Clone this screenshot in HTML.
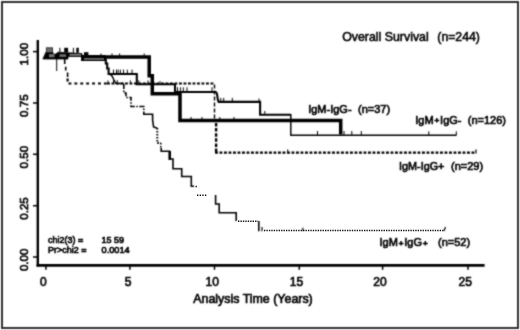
<!DOCTYPE html>
<html>
<head>
<meta charset="utf-8">
<title>Overall Survival</title>
<style>
html,body{margin:0;padding:0;background:#fff;}
body{width:520px;height:330px;overflow:hidden;}
svg{display:block;}
text{font-family:"Liberation Sans",Arial,sans-serif;fill:#000;stroke:#000;stroke-width:0.65px;}
.t12{font-size:12px;}
.t11{font-size:11px;stroke-width:0.45px;}
.t9{font-size:9px;stroke-width:0.5px;}
</style>
</head>
<body>
<svg width="520" height="330" viewBox="0 0 520 330">
<defs><filter id="soft" x="0" y="0" width="520" height="330" filterUnits="userSpaceOnUse" color-interpolation-filters="sRGB"><feConvolveMatrix order="3" kernelMatrix="1 2 1 2 10 2 1 2 1" divisor="22" edgeMode="duplicate" preserveAlpha="true"/></filter></defs>
<g filter="url(#soft)">
<rect x="0" y="0" width="520" height="330" fill="#fff"/>
<!-- outer frame -->
<rect x="2" y="2" width="516" height="326" fill="none" stroke="#303030" stroke-width="2"/>

<!-- axes -->
<g stroke="#000" fill="none">
<line x1="37.8" y1="40" x2="37.8" y2="266.6" stroke-width="2.4"/>
<line x1="36.6" y1="265.4" x2="484.6" y2="265.4" stroke-width="2.6"/>
<g stroke-width="1.5">
<line x1="33" y1="51.6" x2="37.5" y2="51.6"/>
<line x1="33" y1="103" x2="37.5" y2="103"/>
<line x1="33" y1="154.3" x2="37.5" y2="154.3"/>
<line x1="33" y1="205.7" x2="37.5" y2="205.7"/>
<line x1="33" y1="257" x2="37.5" y2="257"/>
<line x1="45.9" y1="265" x2="45.9" y2="269.8"/>
<line x1="129.9" y1="265" x2="129.9" y2="269.8"/>
<line x1="214.5" y1="265" x2="214.5" y2="269.8"/>
<line x1="299.3" y1="265" x2="299.3" y2="269.8"/>
<line x1="382.6" y1="265" x2="382.6" y2="269.8"/>
<line x1="468" y1="265" x2="468" y2="269.8"/>
</g>
</g>

<!-- y labels -->
<g class="t12" text-anchor="middle" style="font-size:11.6px;stroke-width:0.8px">
<text transform="translate(28.1,54.2) rotate(-90)">1.00</text>
<text transform="translate(28.1,105.7) rotate(-90)">0.75</text>
<text transform="translate(28.1,157.2) rotate(-90)">0.50</text>
<text transform="translate(28.1,208.5) rotate(-90)">0.25</text>
<text transform="translate(28.1,259.8) rotate(-90)">0.00</text>
</g>
<!-- x labels -->
<g class="t12" text-anchor="middle">
<text x="43.4" y="285.8">0</text>
<text x="128" y="285.8">5</text>
<text x="212.2" y="285.8">10</text>
<text x="296.5" y="285.8">15</text>
<text x="380" y="285.8">20</text>
<text x="465.3" y="285.8">25</text>
<text x="253" y="303.4" style="font-size:12.5px" textLength="119.5" lengthAdjust="spacingAndGlyphs">Analysis Time (Years)</text>
</g>

<!-- title -->
<text class="t12" x="342.2" y="41" style="font-size:12.3px;stroke-width:0.55px" textLength="86.5" lengthAdjust="spacingAndGlyphs">Overall Survival</text>
<text class="t12" x="437.3" y="41" style="font-size:12.3px;stroke-width:0.55px" textLength="42.6" lengthAdjust="spacingAndGlyphs">(n=244)</text>

<!-- group labels -->
<g class="t11">
<text x="308.2" y="112.7">IgM-IgG-</text>
<text x="358" y="112.7">(n=37)</text>
<text x="415.3" y="123.8">IgM<tspan dx="0.9" dy="-0.6" style="font-size:8px;stroke-width:0.9px">+</tspan><tspan dx="0.9" dy="0.6">IgG-</tspan></text>
<text x="467.8" y="123.8">(n=126)</text>
<text x="399" y="170.3" textLength="45.4" lengthAdjust="spacingAndGlyphs">IgM-IgG+</text>
<text x="451" y="170.3">(n=29)</text>
<text x="379.5" y="246.2">IgM<tspan dx="0.9" dy="-0.6" style="font-size:8px;stroke-width:0.9px">+</tspan><tspan dx="0.9" dy="0.6">IgG</tspan><tspan dx="0.9" dy="-0.6" style="font-size:8px;stroke-width:0.9px">+</tspan></text>
<text x="438" y="246.2">(n=52)</text>
</g>

<!-- stats -->
<g class="t9">
<text x="48" y="243.3">chi2(3) =</text>
<text x="101.6" y="243.3">15 59</text>
<text x="48" y="252.7">Pr&gt;chi2 =</text>
<text x="101.6" y="252.7" textLength="28" lengthAdjust="spacingAndGlyphs">0.0014</text>
</g>

<!-- curves -->
<g fill="none" stroke="#000" stroke-linejoin="miter">
<!-- IgM-IgG+ dashed -->
<path d="M64.7,58.5 V64 M65.7,66.7 V70.6 M67.6,72.5 V77" stroke-width="1.6"/>
<path d="M67.6,78.5 V83.5 H107" stroke-width="2.2" stroke-dasharray="2.9 3"/>
<path d="M107,83.5 H214" stroke-width="2.2" stroke-dasharray="2.9 1.6"/>
<path d="M214.5,84.5 V119" stroke-width="1.4" stroke-dasharray="4 2"/>
<path d="M216.1,123 V152.7" stroke-width="2.4" stroke-dasharray="3.5 1.6"/>
<path d="M215,152.7 H476" stroke-width="2.3" stroke-dasharray="2.9 1.6"/>
<path d="M476,153.5 V149.4" stroke-width="1.2"/>
<!-- IgM+IgG+ dash-dot -->
<path d="M109.6,74 L112,76 L114,80 L116,83.5 H123.8" stroke-width="1.5"/>
<path d="M123.8,84 V93 H126 V97.5 H131 V106.5 H143.8 V114.2 H146" stroke-width="1.6" stroke-dasharray="5 1.5 1.5 1.5"/>
<path d="M146,114.2 H152.6 V120 L153.6,127 L157.3,128.3" stroke-width="1.6"/>
<path d="M157.3,128 V143 H160.8" stroke-width="1.9" stroke-dasharray="1.6 1.4"/>
<path d="M160.8,143 V148" stroke-width="1.6" stroke-dasharray="1.5 1.5"/>
<path d="M161.2,148 V151.3 H169.5 V159 H173 V168.8 H181.7 V176.5 H191.3 V186.2 H194" stroke-width="1.6"/>
<path d="M169.8,151 V160" stroke-width="2.4"/>
<path d="M215.6,195 V204 H219.2 V212.7 H236.2 V221" stroke-width="1.6"/>
<path d="M258.8,221 V231.3" stroke-width="1.6"/>
<path d="M262,227 V231.3" stroke-width="1.2"/>
<path d="M302.9,227.7 V231 M444,231 L445.5,227" stroke-width="1.2"/>
<!-- IgM+IgG- medium/thin solid -->
<path d="M81,60 H105.8 V63.5 H107.2 V68.5 H108.6 V74 H136.8 V84.3 H175 V92 H215.6 Q217,92.3 217.3,96 T218.6,101.9 H260.1 V114.8 H291" stroke-width="2.1"/>
<path d="M290.8,114 V135.25 H456.3" stroke-width="1.45"/>
<!-- IgM-IgG- thick -->
<path d="M81,57 H149.2 V75.8 H152.3 V93.7 H180 V120.4 H340.7 V134.5" stroke-width="3.5"/>
<!-- start blob -->
<path d="M42.9,59 L46,52 H52.6 L53.5,54.3 L56,54 L58,52.2 L82,53.6 V56.5 H68 V59 Z" fill="#000" stroke="#000" stroke-width="0.8"/>
<rect x="46.3" y="47.8" width="6.3" height="4.6" fill="#6a6a6a" stroke="#222" stroke-width="0.8"/>
<rect x="49" y="54.2" width="5.5" height="3" fill="#777" stroke="none"/>
<rect x="59.5" y="54.3" width="6.5" height="2.6" fill="#6e6e6e" stroke="none"/>
<rect x="69.5" y="54" width="11.5" height="1.7" fill="#808080" stroke="none"/>
<rect x="81.5" y="55" width="24.5" height="6" rx="1.2" fill="#000" stroke="none"/>
<rect x="84" y="58.3" width="20" height="1.3" fill="#999" stroke="none"/>
<!-- ticks -->
<g stroke-width="1">
<path d="M59.9,47.8 V52 M73.4,47.8 V53 M56.7,58 V71"/>
<path d="M101,53.5 V56 M112,53.5 V56 M119.6,53.5 V56 M144.2,53.5 V56"/>
<path d="M113.5,69.6 V74 M116.5,69.6 V74 M118.2,69.6 V74 M120.4,69.6 V74 M123.5,69.6 V74 M127.3,69.6 V74 M132,69.6 V74"/>
<path d="M177.5,87.3 V92 M180.4,87.3 V92 M183.3,87.3 V92 M187,87.3 V92 M212,87.3 V92"/>
<path d="M191,117 V119.5 M202,117 V119.5 M219.8,117 V119.5 M234,117 V119.5"/>
<path d="M220.8,97.9 V101 M223.7,97.9 V101 M232.3,97.9 V101 M259,98.5 V101 M264.8,111 V114"/>
<path d="M317.5,131 V135 M344,131 V135 M351.8,131 V135 M361.3,131 V135 M428.8,131.3 V135 M456.3,131.3 V135.5"/>
<path d="M287.7,149.4 V152.5"/>
<path d="M108,80.3 V83 M113.5,80 V83 M117.3,80 V83 M130.4,80.3 V83 M138.8,80.3 V83 M148,80.3 V83 M160,81 V83" stroke-width="0.9"/>
</g>
<rect x="64.2" y="47.8" width="3.9" height="4.5" fill="#000" stroke="none"/>
<rect x="76.3" y="47.8" width="2.5" height="5" fill="#000" stroke="none"/>
<rect x="84" y="52.2" width="4.4" height="3" fill="#000" stroke="none"/>
</g>
</g>
<g fill="none" stroke="#111">
<path d="M264,230.6 H444" stroke-width="1.5" stroke-dasharray="1.35 1.09"/>
<path d="M238,221.2 H258" stroke-width="1.5" stroke-dasharray="1.35 1.09"/>
<path d="M195.5,186.5 H198 M197,195.3 H206.5" stroke-width="1.5" stroke-dasharray="1.35 1.3"/>
</g>
</svg>
</body>
</html>
